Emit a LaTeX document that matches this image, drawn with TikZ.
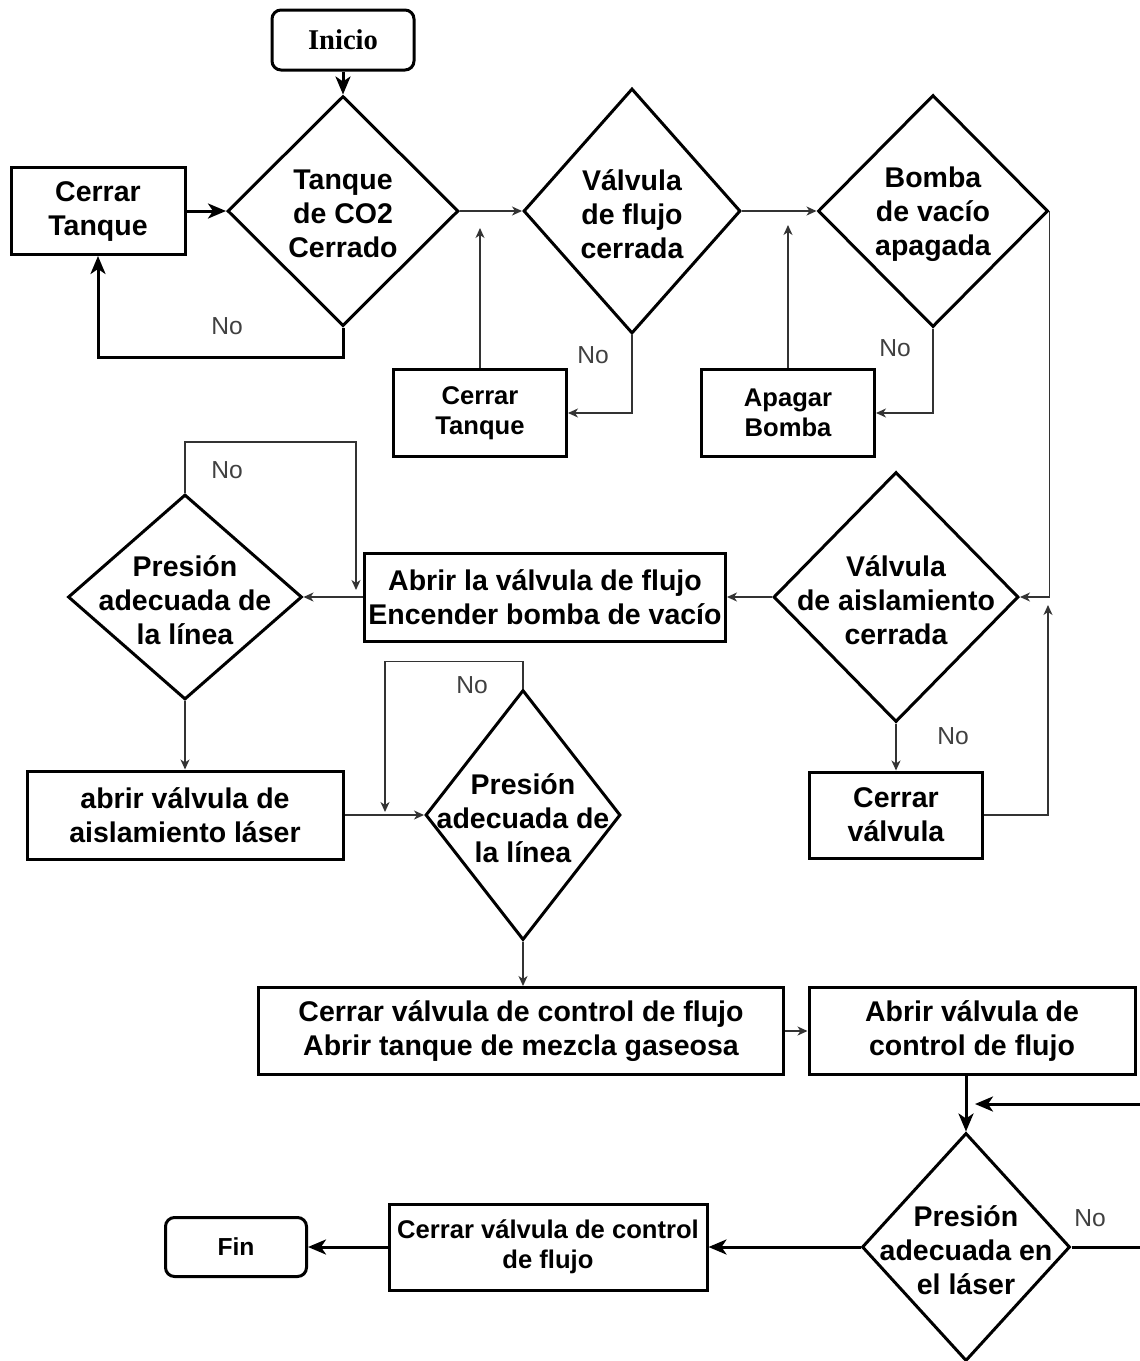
\documentclass[tikz,border=0pt]{standalone}
\usepackage{fontspec}
\setmainfont{Liberation Sans}
\newfontfamily\titlefont{Liberation Serif}
\usetikzlibrary{shapes.geometric,arrows.meta}
\newcommand{\boxfont}{\fontsize{28.5}{34}\selectfont\bfseries}
\newcommand{\smallboxfont}{\fontsize{25.6}{30}\selectfont\bfseries}

\begin{document}
\begin{tikzpicture}[x=1pt,y=-1pt,
    proc/.style={rectangle, draw, line width=3pt, align=center, inner sep=1pt, font=\boxfont},
    term/.style={proc, rounded corners=9pt},
    decision/.style={diamond, draw, line width=3pt, inner sep=0pt},
    dtext/.style={align=center, font=\boxfont, inner sep=0pt, yshift=-3pt},
    link/.style={-{Stealth[length=10pt,width=9pt,inset=3pt]}, line width=1.3pt, draw=black!80},
    heavy/.style={-{Stealth[length=18pt,width=15pt,inset=5pt]}, line width=3pt},
    nolabel/.style={text=black!75, font=\fontsize{24.6}{28}\selectfont},
]
\useasboundingbox (0,0) rectangle (1140,1361);

% fila superior
\node[term, font=\titlefont\fontsize{28.6}{34}\selectfont\bfseries, minimum width=142pt, minimum height=60pt] (inicio) at (343,40) {Inicio};
\node[decision, minimum width=231pt, minimum height=230pt, label={[dtext]center:Tanque\\de CO2\\Cerrado}] (tanque) at (343,211) {};
\node[proc, minimum width=174pt, minimum height=87pt] (cerrarA) at (98,211) {Cerrar\\Tanque};
\node[decision, minimum width=217pt, minimum height=245pt, label={[dtext]center:Válvula\\de flujo\\cerrada}] (valflujo) at (632,211) {};
\node[proc, font=\smallboxfont, minimum width=173pt, minimum height=87pt] (cerrarB) at (480,413) {Cerrar\\Tanque};
\node[decision, minimum width=230pt, minimum height=232pt, label={[dtext]center:Bomba\\de vacío\\apagada}] (bomba) at (933,211) {};
\node[proc, font=\smallboxfont, minimum width=173pt, minimum height=87pt] (apagar) at (788,413) {Apagar\\Bomba};

% bloque central
\node[decision, minimum width=245pt, minimum height=250pt, label={[dtext]center:Válvula\\de aislamiento\\cerrada}] (valaisl) at (896,597) {};
\node[proc, minimum width=173pt, minimum height=86pt] (cerrarval) at (896,815) {Cerrar\\válvula};
\node[proc, minimum width=361pt, minimum height=88pt] (abrirflujo) at (545,597) {Abrir la válvula de flujo\\Encender bomba de vacío};
\node[decision, minimum width=234pt, minimum height=205pt, label={[dtext]center:Presión\\adecuada de\\la línea}] (presionA) at (185,597) {};
\node[proc, minimum width=316pt, minimum height=88pt] (abriraisl) at (185,815) {abrir válvula de\\aislamiento láser};
\node[decision, minimum width=195pt, minimum height=250pt, label={[dtext]center:Presión\\adecuada de\\la línea}] (presionB) at (523,815) {};

% parte inferior
\node[proc, minimum width=525pt, minimum height=87pt] (cerrarctl) at (521,1031) {Cerrar válvula de control de flujo\\Abrir tanque de mezcla gaseosa};
\node[proc, minimum width=326pt, minimum height=87pt] (abrirctl) at (972,1031) {Abrir válvula de\\control de flujo};
\node[decision, minimum width=208pt, minimum height=228pt, label={[dtext]center:Presión\\adecuada en\\el láser}] (presionC) at (966,1247) {};
\node[proc, font=\smallboxfont, minimum width=318pt, minimum height=86pt] (cerrarfin) at (548,1247) {Cerrar válvula de control\\de flujo};
\node[term, font=\fontsize{24.6}{28}\selectfont\bfseries, minimum width=141pt, minimum height=59pt] (fin) at (236,1247) {Fin};

% extremos libres
\coordinate (jA) at (480,228);
\coordinate (jB) at (788,225);
\coordinate (jC) at (1048,605);
\coordinate (jD) at (356,590);
\coordinate (jE) at (385,812);
\coordinate (jF) at (1140,1104);
\coordinate (jG) at (975,1104);
\coordinate (jH) at (1140,1247);

% conectores
\draw[heavy] (inicio) -- (tanque.north);
\draw[heavy] (cerrarA.east) -- (tanque.west);
\draw[heavy] (tanque.south) -- ++(0,30) -| (cerrarA.south);
\draw[link] (tanque.east) -- (valflujo.west);
\draw[link] (cerrarB.north) -- (jA);
\draw[link] (valflujo.south) |- (cerrarB.east);
\draw[link] (valflujo.east) -- (bomba.west);
\draw[link] (apagar.north) -- (jB);
\draw[link] (bomba.south) |- (apagar.east);
\draw[link] (bomba.east) -- (bomba.east |- valaisl.east) -- (valaisl.east);
\draw[link] (valaisl.south) -- (cerrarval.north);
\draw[link] (cerrarval.east) -| (jC);
\draw[link] (valaisl.west) -- (abrirflujo.east);
\draw[link] (abrirflujo.west) -- (presionA.east);
\draw[link] (presionA.north) -- ++(0,-51) -| (jD);
\draw[link] (presionA.south) -- (abriraisl.north);
\draw[link] (abriraisl.east) -- (presionB.west);
\draw[link] (presionB.north) -- ++(0,-27) -| (jE);
\draw[link] (presionB.south) -- (presionB.south |- cerrarctl.north);
\draw[link] (cerrarctl.east) -- (abrirctl.west);
\draw[heavy] (presionC.north |- abrirctl.south) -- (presionC.north);
\draw[heavy] (jF) -- (jG);
\draw[line width=3pt] (presionC.east) -- (jH);
\draw[heavy] (presionC.west) -- (cerrarfin.east);
\draw[heavy] (cerrarfin.west) -- (fin.east);

% etiquetas
\node[nolabel] (noA) at (227,326) {No};
\node[nolabel] (noB) at (593,355) {No};
\node[nolabel] (noC) at (895,348) {No};
\node[nolabel] (noD) at (227,470) {No};
\node[nolabel] (noE) at (472,685) {No};
\node[nolabel] (noF) at (953,736) {No};
\node[nolabel] (noG) at (1090,1218) {No};
\end{tikzpicture}
\end{document}
